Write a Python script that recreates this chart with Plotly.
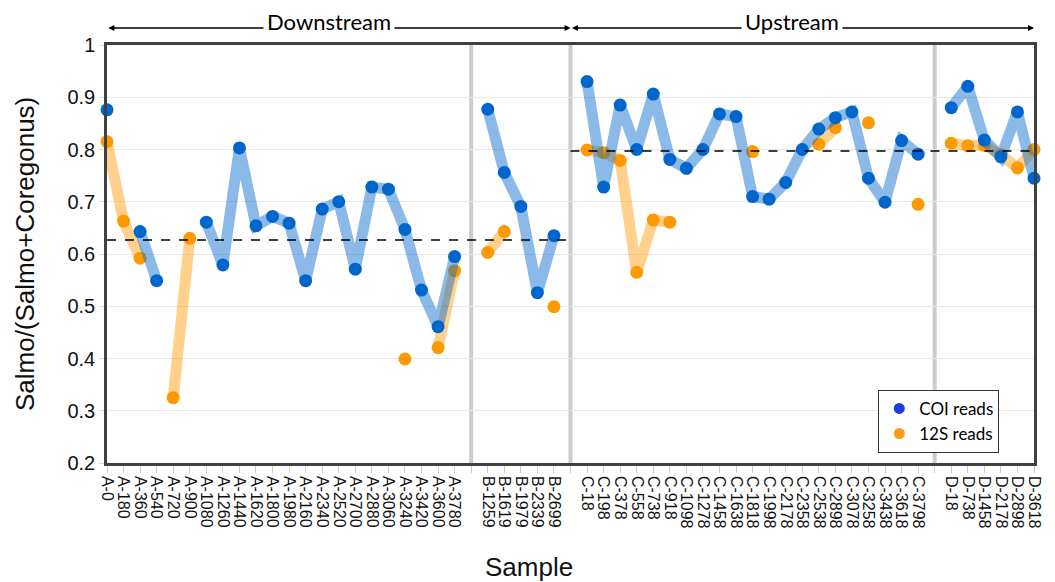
import plotly.graph_objects as go

# Sample labels per transect group
a_samples = ["A-0", "A-180", "A-360", "A-540", "A-720", "A-900", "A-1080", "A-1260",
             "A-1440", "A-1620", "A-1800", "A-1980", "A-2160", "A-2340", "A-2520",
             "A-2700", "A-2880", "A-3060", "A-3240", "A-3420", "A-3600", "A-3780"]
b_samples = ["B-1259", "B-1619", "B-1979", "B-2339", "B-2699"]
c_samples = ["C-18", "C-198", "C-378", "C-558", "C-738", "C-918", "C-1098", "C-1278",
             "C-1458", "C-1638", "C-1818", "C-1998", "C-2178", "C-2358", "C-2538",
             "C-2898", "C-3078", "C-3258", "C-3438", "C-3618", "C-3798"]
d_samples = ["D-18", "D-738", "D-1458", "D-2178", "D-2898", "D-3618"]

# Salmo/(Salmo+Coregonus) ratio from COI reads (None = no data)
a_coi = [0.876, None, 0.643, 0.549, None, None, 0.661, 0.579, 0.803, 0.654, 0.672,
         0.659, 0.549, 0.686, 0.700, 0.571, 0.728, 0.724, 0.647, 0.531, 0.461, 0.595]
b_coi = [0.877, 0.756, 0.691, 0.526, 0.635]
c_coi = [0.930, 0.728, 0.885, 0.800, 0.906, 0.781, 0.764, 0.800, 0.868, 0.863, 0.710,
         0.705, 0.737, 0.800, 0.839, 0.861, 0.872, 0.745, 0.699, 0.817, 0.791]
d_coi = [0.880, 0.921, 0.818, 0.786, 0.872, 0.745]

# Same ratio from 12S reads
a_12s = [0.815, 0.663, 0.592, None, 0.325, 0.630, None, None, None, None, None,
         None, None, None, None, None, None, None, 0.399, None, 0.421, 0.568]
b_12s = [0.603, 0.643, None, None, 0.499]
c_12s = [0.799, 0.794, 0.779, 0.565, 0.665, 0.661, None, None, None, None, 0.796,
         None, None, None, 0.810, 0.842, None, 0.851, None, None, 0.695]
d_12s = [0.812, 0.807, 0.808, 0.790, 0.765, 0.800]

# Mean ratio for each reach
downstream_mean = 0.627
upstream_mean = 0.797

groups = [(a_samples, a_coi, a_12s), (b_samples, b_coi, b_12s),
          (c_samples, c_coi, c_12s), (d_samples, d_coi, d_12s)]

# Lay the groups out on one axis with an empty slot between groups
x_all, labels, coi_all, s12_all, gaps = [], [], [], [], []
pos = 0
for k, (names, coi, s12) in enumerate(groups):
    if k > 0:
        gaps.append(pos)
        x_all.append(pos); labels.append(""); coi_all.append(None); s12_all.append(None)
        pos += 1
    for n, c, s in zip(names, coi, s12):
        x_all.append(pos); labels.append(n); coi_all.append(c); s12_all.append(s)
        pos += 1

x_first, x_last = x_all[0], x_all[-1]
split = gaps[1]  # boundary between downstream (A, B) and upstream (C, D)

BLUE = "#0066cc"
ORANGE = "#ff9900"

fig = go.Figure()
fig.add_trace(go.Scatter(
    x=x_all, y=s12_all, mode="lines+markers", connectgaps=False, cliponaxis=False,
    line=dict(color="rgba(255,153,0,0.45)", width=11),
    marker=dict(color=ORANGE, size=13), showlegend=False, hoverinfo="skip"))
fig.add_trace(go.Scatter(
    x=x_all, y=coi_all, mode="lines+markers", connectgaps=False, cliponaxis=False,
    line=dict(color="rgba(0,102,204,0.45)", width=11),
    marker=dict(color=BLUE, size=13), showlegend=False, hoverinfo="skip"))

# Legend entries
fig.add_trace(go.Scatter(x=[None], y=[None], mode="markers", name="COI reads",
                         marker=dict(color="#1f3de6", size=11)))
fig.add_trace(go.Scatter(x=[None], y=[None], mode="markers", name="12S reads",
                         marker=dict(color="#ff9a1a", size=11)))

shapes = []
for g in gaps:
    shapes.append(dict(type="line", xref="x", yref="paper", x0=g, x1=g, y0=0, y1=1,
                       line=dict(color="#cccccc", width=4), layer="below"))
shapes.append(dict(type="line", xref="x", yref="y", x0=x_first, x1=split,
                   y0=downstream_mean, y1=downstream_mean,
                   line=dict(color="black", width=1.5, dash="dash")))
shapes.append(dict(type="line", xref="x", yref="y", x0=split, x1=x_last,
                   y0=upstream_mean, y1=upstream_mean,
                   line=dict(color="black", width=1.5, dash="dash")))

arrow_y = 1.0407
annotations = []
for lo, hi, name in [(x_first, split, "Downstream"), (split, x_last, "Upstream")]:
    annotations.append(dict(
        x=hi, y=arrow_y, xref="x", yref="paper", ax=lo, ay=0, axref="x", ayref="pixel",
        text="", showarrow=True, arrowhead=2, startarrowhead=2, arrowside="end+start",
        arrowsize=0.9, arrowwidth=1.3, arrowcolor="black", standoff=0, startstandoff=0))
    annotations.append(dict(
        x=(lo + hi) / 2 - 0.6, y=1.056, xref="x", yref="paper", text=name,
        showarrow=False, xanchor="center", yanchor="middle", bgcolor="white",
        borderpad=3, font=dict(family="Lato, Carlito, sans-serif", size=22, color="black")))
annotations.append(dict(
    x=-0.0884, y=0.5, xref="paper", yref="paper", text="Salmo/(Salmo+Coregonus)",
    textangle=-90, showarrow=False, xanchor="center", yanchor="middle",
    font=dict(family="Liberation Sans, Arial, sans-serif", size=26, color="#111")))
annotations.append(dict(
    x=0.455, y=-0.248, xref="paper", yref="paper", text="Sample",
    showarrow=False, xanchor="center", yanchor="middle",
    font=dict(family="Liberation Sans, Arial, sans-serif", size=26, color="#111")))

fig.update_layout(
    width=1055, height=582, autosize=False,
    margin=dict(l=107, r=16, t=45, b=119),
    plot_bgcolor="white", paper_bgcolor="white",
    shapes=shapes, annotations=annotations,
    legend=dict(x=0.832, y=0.175, xanchor="left", yanchor="top",
                bgcolor="white", bordercolor="#333333", borderwidth=1,
                font=dict(family="Lato, Carlito, sans-serif", size=17, color="black"),
                itemwidth=30, tracegroupgap=0),
)
fig.update_xaxes(
    range=[x_first, x_last], tickmode="array", tickvals=x_all, ticktext=labels,
    tickangle=90, tickfont=dict(family="Liberation Sans, Arial, sans-serif", size=16, color="#111"),
    ticks="outside", ticklen=7, tickcolor="#cccccc", showgrid=False, zeroline=False,
    showline=True, mirror=True, linecolor="#404040", linewidth=2.5)
fig.update_yaxes(
    range=[0.2, 1.0], dtick=0.1, tick0=0.2,
    tickfont=dict(family="Liberation Sans, Arial, sans-serif", size=20, color="#111"),
    ticks="outside", ticklen=5, tickcolor="#dddddd", gridcolor="#e8e8e8", zeroline=False,
    showline=True, mirror=True, linecolor="#404040", linewidth=2.5)

fig.write_html("out.html")
